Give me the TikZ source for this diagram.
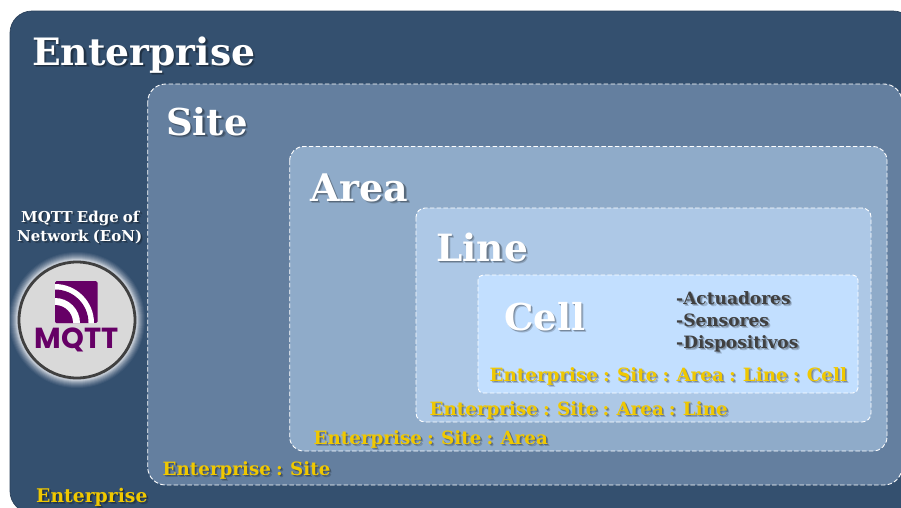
\documentclass[tikz,border=0pt]{standalone}
\usepackage{fontspec}
\setmainfont{DejaVu Serif}
\newfontfamily\logofont{Poppins}
\definecolor{entc}{HTML}{34506F}
\definecolor{sitec}{HTML}{647F9F}
\definecolor{areac}{HTML}{8FABC9}
\definecolor{linec}{HTML}{ADC8E6}
\definecolor{cellc}{HTML}{C2DFFF}
\definecolor{goldc}{HTML}{F0C800}
\definecolor{darkt}{HTML}{404040}
\definecolor{mq}{HTML}{660066}
\tikzset{
  lvlbox/.style={draw=white,dash pattern=on 4.5pt off 2.3pt,line width=0.9pt},
  lbl/.style={inner sep=0pt,anchor=base west,font=\bfseries},
}
% soft shadow inside the label's own node
\newcommand{\softcopy}[3]{\rlap{\hspace{#1pt}\raisebox{-#1pt}{\begin{pgfscope}\pgfsetfillopacity{#2}\color{black}#3\end{pgfscope}}}}
% name, x, y, size, colour, text
\newcommand{\shtext}[6]{%
  \node[lbl,text=#5] (#1) at (#2,#3) {\fontsize{#4}{#4}\selectfont\spaceskip=0.28em \softcopy{2.2}{0.18}{#6}\softcopy{1.3}{0.25}{#6}#6};
}
\begin{document}
\begin{tikzpicture}[x=1pt,y=-1pt]
\useasboundingbox (0,0) rectangle (901,507);
\fill[white] (0,0) rectangle (901,507);
\begin{scope}
\clip (0,0) rectangle (901,507);
\draw[fill=entc,draw=entc!80!black,line width=0.7pt,rounded corners=22pt] (10,11) rectangle (915,513);
\draw[lvlbox,fill=sitec,rounded corners=18pt] (147.7,84) rectangle (902,485);
\draw[lvlbox,fill=areac,rounded corners=14pt] (289.7,146.5) rectangle (887,451);
\draw[lvlbox,fill=linec,rounded corners=9pt] (416,208) rectangle (871,422);
\draw[lvlbox,fill=cellc,rounded corners=5pt] (478,275) rectangle (858,393);
\end{scope}
\shtext{tent}{32}{65}{37.7}{white}{Enterprise}
\shtext{tsite}{166}{135}{37}{white}{Site}
\shtext{tarea}{310}{201}{38}{white}{Area}
\shtext{tline}{436}{261}{37.5}{white}{Line}
\shtext{tcell}{504}{330}{37}{white}{Cell}
\shtext{ta}{676}{304}{17}{darkt}{-Actuadores}
\shtext{tb}{676}{326}{17}{darkt}{-Sensores}
\shtext{tc}{676}{348}{17}{darkt}{-Dispositivos}
\shtext{pa}{489.5}{381}{18.3}{goldc}{Enterprise : Site : Area : Line : Cell}
\shtext{pb}{429.5}{415}{18.3}{goldc}{Enterprise : Site : Area : Line}
\shtext{pc}{313.5}{444}{18.3}{goldc}{Enterprise : Site : Area}
\shtext{pd}{162.5}{475}{18.3}{goldc}{Enterprise : Site}
\shtext{pe}{36}{502}{18.8}{goldc}{Enterprise}
\shtext{ea}{21}{222}{15}{white}{MQTT Edge of}
\shtext{eb}{17}{241}{15}{white}{Network (EoN)}
% MQTT badge
\foreach \r/\o in {68/0.05,67/0.07,66/0.08,65/0.1,64/0.12,63/0.15,62/0.2,61/0.3}{\fill[white,opacity=\o] (77,320) circle (\r);}
\node[circle,draw=darkt,fill=black!15,line width=2.8pt,minimum size=116pt,inner sep=0pt] (badge) at (77,320) {};
\begin{scope}
\clip[rounded corners=1.5pt] (55,281) rectangle (97.5,323);
\fill[mq] (55,281) rectangle (97.5,323);
\fill[white] (55,323) circle (39);
\fill[mq] (55,323) circle (33.5);
\fill[white] (55,323) circle (25);
\fill[mq] (55,323) circle (18);
\end{scope}
\node[inner sep=0pt,text=mq,font=\logofont\bfseries\fontsize{29}{29}\selectfont] (logo) at (76.5,339.5) {MQTT};
\end{tikzpicture}
\end{document}
